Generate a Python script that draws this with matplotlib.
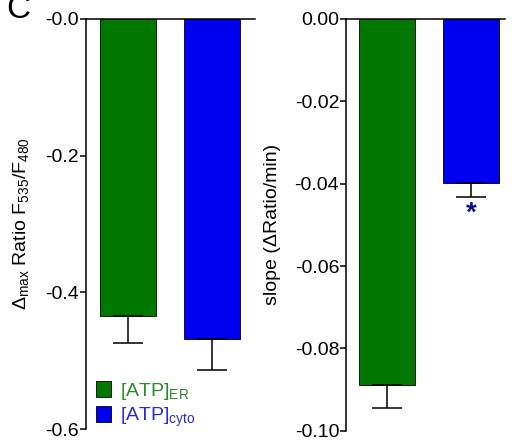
import matplotlib.pyplot as plt
from matplotlib.patches import Patch

plt.rcParams['font.family'] = ['Liberation Sans', 'DejaVu Sans']
plt.rcParams['mathtext.fontset'] = 'custom'
plt.rcParams['mathtext.rm'] = 'Liberation Sans'
plt.rcParams['mathtext.it'] = 'Liberation Sans'
plt.rcParams['mathtext.default'] = 'regular'

groups = ["[ATP]$_{ER}$", "[ATP]$_{cyto}$"]
colors = ["#007800", "#0000f0"]
label_colors = ["#2a8a2a", "#2b2bd0"]

# panel 1: max ratio change
delta_max = [-0.435, -0.468]
delta_err = [0.039, 0.046]
left_ticks = [0.0, -0.2, -0.4, -0.6]
left_labels = ["-0.0", "-0.2", "-0.4", "-0.6"]

# panel 2: slope
slope = [-0.0888, -0.0398]
slope_err = [0.0056, 0.0034]
right_ticks = [0.0, -0.02, -0.04, -0.06, -0.08, -0.10]
right_labels = ["0.00", "-0.02", "-0.04", "-0.06", "-0.08", "-0.10"]

fig = plt.figure(figsize=(5.12, 4.4), dpi=100)
ax1 = fig.add_axes([0.168, 0.025, 0.330, 0.932])
ax2 = fig.add_axes([0.676, 0.021, 0.310, 0.936])

x = [0, 1]


def style(ax, ticks, labels, ylim, xlim):
    ax.set_ylim(ylim)
    ax.set_xlim(xlim)
    ax.set_yticks(ticks)
    ax.set_yticklabels(labels)
    ax.set_xticks([])
    ax.spines["bottom"].set_visible(False)
    ax.spines["right"].set_visible(False)
    ax.spines["left"].set_linewidth(1.1)
    ax.spines["top"].set_linewidth(1.1)
    ax.tick_params(axis="y", direction="out", length=4, width=1.1,
                   labelsize=14, pad=1)


ax1.bar(x, delta_max, width=0.667, color=colors, edgecolor="black", linewidth=0.6)
ax1.errorbar(x, delta_max, yerr=[delta_err, [0, 0]], fmt="none",
             ecolor="black", elinewidth=1.1, capsize=10.5, capthick=1.1)
style(ax1, left_ticks, left_labels, (-0.6, 0.0), (-0.5, 1.51))
ax1.set_ylabel("Δ$_{max}$ Ratio F$_{535}$/F$_{480}$", fontsize=14, labelpad=10)

handles = [Patch(facecolor=c, edgecolor="black", linewidth=0.6) for c in colors]
leg = ax1.legend(handles, groups, loc="lower left", bbox_to_anchor=(0.06, 0.0),
                 frameon=False, fontsize=14, handlelength=0.75, handleheight=0.9,
                 handletextpad=0.5, labelspacing=0.2, borderpad=0, borderaxespad=0)
for t, c in zip(leg.get_texts(), label_colors):
    t.set_color(c)

ax2.bar(x, slope, width=0.667, color=colors, edgecolor="black", linewidth=0.6)
ax2.errorbar(x, slope, yerr=[slope_err, [0, 0]], fmt="none",
             ecolor="black", elinewidth=1.1, capsize=10.5, capthick=1.1)
style(ax2, right_ticks, right_labels, (-0.10, 0.0), (-0.49, 1.40))
ax2.set_ylabel("slope (ΔRatio/min)", fontsize=14, labelpad=10)
ax2.text(1, -0.0472, "*", ha="center", va="center", fontsize=20,
         fontweight="bold", color="#101080")

fig.text(0.012, 0.959, "C", fontsize=24, va="baseline", ha="left")

fig.savefig("out.png", dpi=100)
